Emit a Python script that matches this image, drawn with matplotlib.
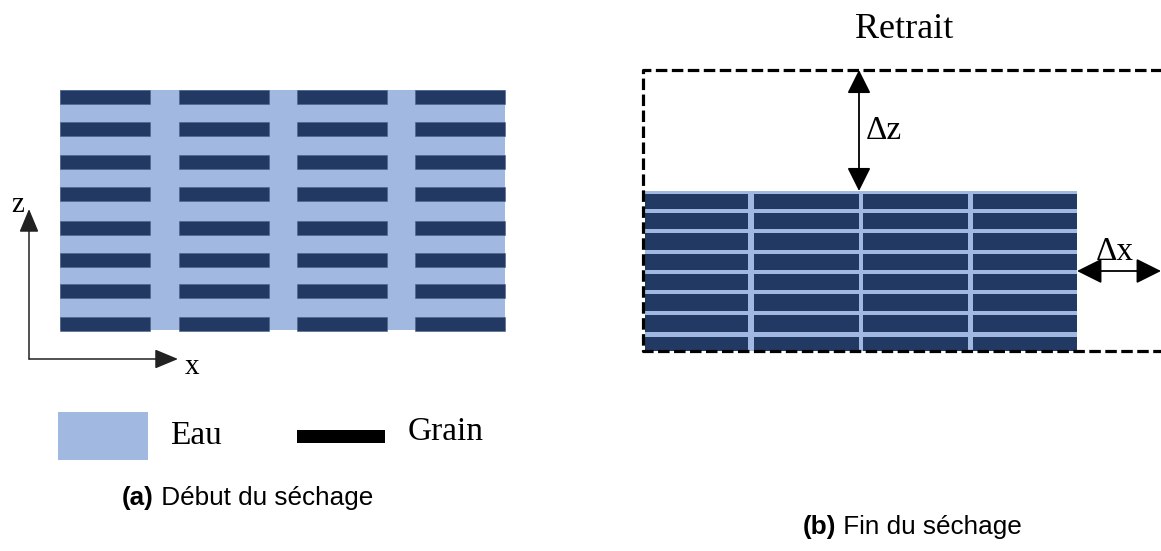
import matplotlib
matplotlib.use("Agg")
import matplotlib.pyplot as plt
from matplotlib.patches import Rectangle, FancyArrowPatch

W, H = 1161, 551
EAU = "#a1b8e1"
GRAIN = "#223a63"
SERIF = "Liberation Serif"
SANS = "Liberation Sans"

# panel (a): grains floating in water (pixel layout)
A_BOX = (60, 90, 505, 330)
A_COLS = [60, 179, 297, 415]
A_ROWS = [90, 122, 155, 187, 221, 253, 284, 317]
A_GRAIN_W = 90
A_GRAIN_H = 13.5

# panel (b): packed grains after drying
B_BOX = (645, 191, 1077, 351)
B_COLS = [(645, 748), (754, 859), (863, 968), (973, 1077)]
B_ROWS = [(194, 209), (213, 229), (233, 250), (254, 270),
          (274, 290), (294, 311), (315, 332), (337, 351)]
B_DASH = (643, 70, 1175, 351)

LABELS = {"eau": "Eau", "grain": "Grain", "retrait": "Retrait",
          "dz": "\u0394z", "dx": "\u0394x"}


def rect(ax, x0, y0, x1, y1, **kw):
    ax.add_patch(Rectangle((x0, y0), x1 - x0, y1 - y0, **kw))


def arrow(ax, p0, p1, style, scale, lw=1.3, color="black"):
    ax.add_patch(FancyArrowPatch(p0, p1, arrowstyle=style, mutation_scale=scale,
                                 shrinkA=0, shrinkB=0, lw=lw, color=color))


def caption(ax, x, y, tag, rest):
    t1 = ax.text(x, y, tag, family=SANS, weight="bold", fontsize=18.8, va="center")
    ax.annotate(rest, xy=(1, 0), xycoords=t1, family=SANS, fontsize=18.8,
                va="bottom", ha="left")


fig = plt.figure(figsize=(W / 100, H / 100), dpi=100)
ax = fig.add_axes([0, 0, 1, 1])
ax.set_xlim(0, W)
ax.set_ylim(H, 0)
ax.axis("off")

# ---- (a) start of drying
rect(ax, *A_BOX, color=EAU, lw=0)
for y in A_ROWS:
    for x in A_COLS:
        rect(ax, x, y, x + A_GRAIN_W, y + A_GRAIN_H, facecolor=GRAIN,
             edgecolor="#4a5f85", lw=0.4)

# axes arrows
arrow(ax, (29, 359), (29, 209), "-|>,head_length=1.2,head_width=0.5", 12, lw=1.1, color="#222")
arrow(ax, (29, 359), (178, 359), "-|>,head_length=1.2,head_width=0.5", 12, lw=1.1, color="#222")
ax.text(18, 205, "z", family=SERIF, fontsize=21, ha="center", va="center")
ax.text(192, 367, "x", family=SERIF, fontsize=21, ha="center", va="center")

# legend
rect(ax, 58, 412, 148, 460, color=EAU, lw=0)
ax.text(170, 436, LABELS["eau"], family=SERIF, fontsize=24, ha="left", va="center")
rect(ax, 297, 430, 385, 443, color="black", lw=0)
ax.text(408, 432, LABELS["grain"], family=SERIF, fontsize=24, ha="left", va="center")

caption(ax, 122, 498, "(a)", " D\u00e9but du s\u00e9chage")

# ---- (b) end of drying
rect(ax, *B_BOX, color=EAU, lw=0)
for y0, y1 in B_ROWS:
    for x0, x1 in B_COLS:
        rect(ax, x0, y0, x1, y1, color=GRAIN, lw=0)

x0, y0, x1, y1 = B_DASH
ax.plot([x1, x0, x0, x1], [y0, y0, y1, y1], color="black", lw=2.3,
        ls=(0, (3.6, 1.4)), solid_capstyle="butt", dash_capstyle="butt")

arrow(ax, (859, 70), (859, 191), "<|-|>,head_length=1.0,head_width=0.5", 14.5, lw=1.3)
arrow(ax, (1077, 271), (1161, 271), "<|-|>,head_length=1.0,head_width=0.5", 15.5, lw=1.3)
ax.text(866, 131, LABELS["dz"], family=SERIF, fontsize=24, ha="left", va="center")
ax.text(1096, 252, LABELS["dx"], family=SERIF, fontsize=24, ha="left", va="center")
ax.text(904, 29, LABELS["retrait"], family=SERIF, fontsize=26, ha="center", va="center")

caption(ax, 803, 527, "(b)", " Fin du s\u00e9chage")

fig.savefig("out.png", dpi=100)
